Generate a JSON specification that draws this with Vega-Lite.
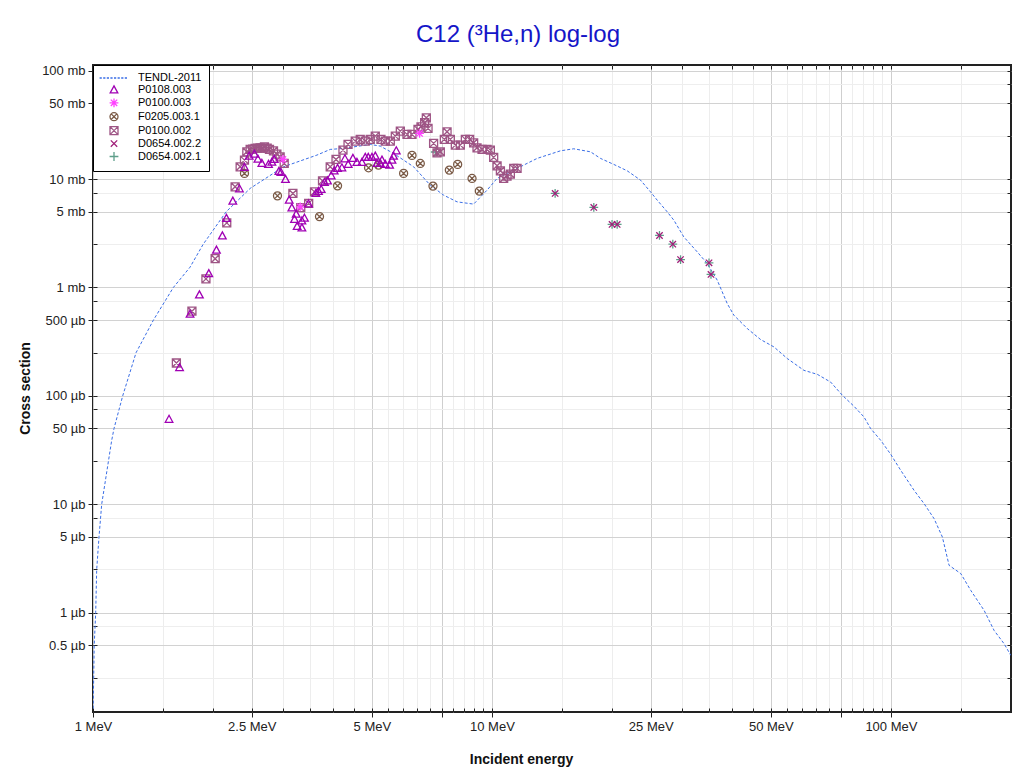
{
  "$schema": "https://vega.github.io/schema/vega-lite/v6.json",
  "width": 918,
  "height": 647,
  "autosize": {"type": "none"},
  "padding": {"left": 93, "top": 65, "right": 9, "bottom": 62},
  "background": "white",
  "config": {"view": {"stroke": "#222222", "strokeWidth": 2}, "font": "Liberation Sans"},
  "title": {"text": "C12 (³He,n) log-log", "fontSize": 24, "font": "Liberation Sans", "fontWeight": "normal", "color": "#1515c8", "anchor": "middle", "dx": -34, "dy": 23, "offset": 22, "baseline": "alphabetic"},
  "datasets": {
    "tendl": [
      {"E": 1.001, "s": 0.00013}, {"E": 1.007, "s": 0.0005}, {"E": 1.0157, "s": 0.001}, {"E": 1.0216, "s": 0.0025},
      {"E": 1.0353, "s": 0.005}, {"E": 1.0515, "s": 0.01}, {"E": 1.114, "s": 0.0389}, {"E": 1.129, "s": 0.05},
      {"E": 1.187, "s": 0.1}, {"E": 1.282, "s": 0.25}, {"E": 1.417, "s": 0.5}, {"E": 1.59, "s": 1.0},
      {"E": 1.751, "s": 1.54}, {"E": 1.888, "s": 2.5}, {"E": 2.157, "s": 5.0},
      {"E": 2.477, "s": 8.21}, {"E": 3.002, "s": 12.99}, {"E": 3.641, "s": 16.66}, {"E": 3.932, "s": 18.8},
      {"E": 4.246, "s": 19.21}, {"E": 4.955, "s": 20.91}, {"E": 5.248, "s": 20.17}, {"E": 5.667, "s": 17.27},
      {"E": 6.364, "s": 12.99}, {"E": 7.005, "s": 8.8}, {"E": 7.564, "s": 7.12}, {"E": 8.176, "s": 6.17},
      {"E": 8.997, "s": 5.88}, {"E": 9.721, "s": 7.91}, {"E": 10.3, "s": 10.15}, {"E": 11.56, "s": 12.56},
      {"E": 12.98, "s": 15.53}, {"E": 14.85, "s": 18.25}, {"E": 16.03, "s": 19.05}, {"E": 17.66, "s": 17.87},
      {"E": 18.71, "s": 15.53}, {"E": 20.2, "s": 13.67}, {"E": 21.83, "s": 11.93}, {"E": 23.57, "s": 9.79},
      {"E": 24.97, "s": 7.63}, {"E": 25.95, "s": 6.4}, {"E": 27.5, "s": 4.99}, {"E": 28.57, "s": 4.18},
      {"E": 30.26, "s": 2.93}, {"E": 32.7, "s": 2.13}, {"E": 34.64, "s": 1.666}, {"E": 36.7, "s": 1.168},
      {"E": 38.88, "s": 0.711}, {"E": 40.4, "s": 0.555}, {"E": 43.65, "s": 0.418}, {"E": 47.14, "s": 0.331},
      {"E": 50.9, "s": 0.283}, {"E": 55.0, "s": 0.221}, {"E": 60.53, "s": 0.172}, {"E": 65.39, "s": 0.158},
      {"E": 70.63, "s": 0.134}, {"E": 75.56, "s": 0.1013}, {"E": 80.8, "s": 0.0802}, {"E": 85.6, "s": 0.0639},
      {"E": 88.97, "s": 0.0499}, {"E": 94.28, "s": 0.0389}, {"E": 99.88, "s": 0.0289}, {"E": 105.8, "s": 0.0206},
      {"E": 114.3, "s": 0.01344}, {"E": 121.1, "s": 0.01013}, {"E": 128.3, "s": 0.00736}, {"E": 134.6, "s": 0.00498},
      {"E": 139.9, "s": 0.00273}, {"E": 149.7, "s": 0.00229}, {"E": 158.6, "s": 0.0016}, {"E": 171.2, "s": 0.00105},
      {"E": 181.4, "s": 0.000685}, {"E": 192.2, "s": 0.000516}, {"E": 199.8, "s": 0.000403}
    ],
    "exp": [
      {"E": 14.4, "s": 7.38, "series": "D0654.002.1"}, {"E": 18.0, "s": 5.48, "series": "D0654.002.1"},
      {"E": 20.0, "s": 3.82, "series": "D0654.002.1"}, {"E": 20.6, "s": 3.82, "series": "D0654.002.1"},
      {"E": 26.3, "s": 3.02, "series": "D0654.002.1"}, {"E": 28.4, "s": 2.51, "series": "D0654.002.1"},
      {"E": 29.7, "s": 1.81, "series": "D0654.002.1"}, {"E": 35.0, "s": 1.69, "series": "D0654.002.1"},
      {"E": 35.4, "s": 1.32, "series": "D0654.002.1"}, {"E": 7.21, "s": 17.8, "series": "D0654.002.1"},
      {"E": 14.4, "s": 7.38, "series": "D0654.002.2"}, {"E": 18.0, "s": 5.48, "series": "D0654.002.2"},
      {"E": 20.0, "s": 3.82, "series": "D0654.002.2"}, {"E": 20.6, "s": 3.82, "series": "D0654.002.2"},
      {"E": 26.3, "s": 3.02, "series": "D0654.002.2"}, {"E": 28.4, "s": 2.51, "series": "D0654.002.2"},
      {"E": 29.7, "s": 1.81, "series": "D0654.002.2"}, {"E": 35.0, "s": 1.69, "series": "D0654.002.2"},
      {"E": 35.4, "s": 1.32, "series": "D0654.002.2"},
      {"E": 1.618, "s": 0.201, "series": "P0100.002"}, {"E": 1.77, "s": 0.604, "series": "P0100.002"},
      {"E": 1.919, "s": 1.2, "series": "P0100.002"}, {"E": 2.024, "s": 1.845, "series": "P0100.002"},
      {"E": 2.164, "s": 3.95, "series": "P0100.002"}, {"E": 2.271, "s": 8.49, "series": "P0100.002"},
      {"E": 2.338, "s": 12.99, "series": "P0100.002"}, {"E": 2.397, "s": 14.98, "series": "P0100.002"},
      {"E": 2.43, "s": 17.87, "series": "P0100.002"}, {"E": 2.477, "s": 18.8, "series": "P0100.002"},
      {"E": 2.513, "s": 18.92, "series": "P0100.002"}, {"E": 2.549, "s": 19.21, "series": "P0100.002"},
      {"E": 2.586, "s": 19.35, "series": "P0100.002"}, {"E": 2.624, "s": 19.45, "series": "P0100.002"},
      {"E": 2.655, "s": 19.35, "series": "P0100.002"}, {"E": 2.69, "s": 19.87, "series": "P0100.002"},
      {"E": 2.733, "s": 19.35, "series": "P0100.002"}, {"E": 2.769, "s": 18.8, "series": "P0100.002"},
      {"E": 2.834, "s": 18.25, "series": "P0100.002"}, {"E": 2.89, "s": 17.02, "series": "P0100.002"},
      {"E": 2.945, "s": 16.07, "series": "P0100.002"}, {"E": 3.015, "s": 13.96, "series": "P0100.002"},
      {"E": 3.17, "s": 7.38, "series": "P0100.002"}, {"E": 3.317, "s": 5.45, "series": "P0100.002"},
      {"E": 3.472, "s": 5.97, "series": "P0100.002"}, {"E": 3.591, "s": 7.63, "series": "P0100.002"},
      {"E": 3.761, "s": 9.64, "series": "P0100.002"}, {"E": 3.932, "s": 12.99, "series": "P0100.002"},
      {"E": 4.066, "s": 15.2, "series": "P0100.002"}, {"E": 4.232, "s": 18.53, "series": "P0100.002"},
      {"E": 4.358, "s": 20.91, "series": "P0100.002"}, {"E": 4.543, "s": 22.43, "series": "P0100.002"},
      {"E": 4.676, "s": 23.26, "series": "P0100.002"}, {"E": 4.813, "s": 22.43, "series": "P0100.002"},
      {"E": 4.954, "s": 23.26, "series": "P0100.002"}, {"E": 5.1, "s": 24.95, "series": "P0100.002"},
      {"E": 5.27, "s": 23.26, "series": "P0100.002"}, {"E": 5.403, "s": 22.43, "series": "P0100.002"},
      {"E": 5.562, "s": 22.43, "series": "P0100.002"}, {"E": 5.725, "s": 24.95, "series": "P0100.002"},
      {"E": 5.893, "s": 27.75, "series": "P0100.002"}, {"E": 6.124, "s": 25.86, "series": "P0100.002"},
      {"E": 6.304, "s": 25.86, "series": "P0100.002"}, {"E": 6.526, "s": 28.77, "series": "P0100.002"},
      {"E": 6.64, "s": 30.41, "series": "P0100.002"}, {"E": 6.781, "s": 33.11, "series": "P0100.002"},
      {"E": 6.847, "s": 36.81, "series": "P0100.002"}, {"E": 6.915, "s": 29.39, "series": "P0100.002"},
      {"E": 7.141, "s": 21.36, "series": "P0100.002"}, {"E": 7.284, "s": 17.49, "series": "P0100.002"},
      {"E": 7.423, "s": 17.87, "series": "P0100.002"}, {"E": 7.597, "s": 23.26, "series": "P0100.002"},
      {"E": 7.717, "s": 27.34, "series": "P0100.002"}, {"E": 7.865, "s": 23.26, "series": "P0100.002"},
      {"E": 8.095, "s": 20.6, "series": "P0100.002"}, {"E": 8.331, "s": 20.6, "series": "P0100.002"},
      {"E": 8.577, "s": 23.26, "series": "P0100.002"}, {"E": 8.792, "s": 23.26, "series": "P0100.002"},
      {"E": 8.997, "s": 21.64, "series": "P0100.002"}, {"E": 9.175, "s": 19.45, "series": "P0100.002"},
      {"E": 9.445, "s": 18.8, "series": "P0100.002"}, {"E": 9.721, "s": 18.8, "series": "P0100.002"},
      {"E": 9.908, "s": 18.53, "series": "P0100.002"}, {"E": 10.1, "s": 15.87, "series": "P0100.002"},
      {"E": 10.3, "s": 13.27, "series": "P0100.002"}, {"E": 10.5, "s": 11.93, "series": "P0100.002"},
      {"E": 10.7, "s": 10.15, "series": "P0100.002"}, {"E": 10.91, "s": 10.66, "series": "P0100.002"},
      {"E": 11.12, "s": 11.12, "series": "P0100.002"}, {"E": 11.34, "s": 12.56, "series": "P0100.002"},
      {"E": 11.56, "s": 12.56, "series": "P0100.002"},
      {"E": 2.397, "s": 11.29, "series": "F0205.003.1"}, {"E": 2.9, "s": 7.01, "series": "F0205.003.1"},
      {"E": 3.696, "s": 4.51, "series": "F0205.003.1"}, {"E": 4.102, "s": 8.67, "series": "F0205.003.1"},
      {"E": 4.906, "s": 12.72, "series": "F0205.003.1"}, {"E": 5.196, "s": 13.47, "series": "F0205.003.1"},
      {"E": 6.006, "s": 11.29, "series": "F0205.003.1"}, {"E": 6.304, "s": 16.55, "series": "F0205.003.1"},
      {"E": 6.613, "s": 13.96, "series": "F0205.003.1"}, {"E": 7.115, "s": 8.62, "series": "F0205.003.1"},
      {"E": 7.82, "s": 12.11, "series": "F0205.003.1"}, {"E": 8.204, "s": 13.67, "series": "F0205.003.1"},
      {"E": 8.914, "s": 10.15, "series": "F0205.003.1"}, {"E": 9.297, "s": 7.75, "series": "F0205.003.1"},
      {"E": 2.992, "s": 15.2, "series": "P0100.003"}, {"E": 3.306, "s": 5.55, "series": "P0100.003"},
      {"E": 6.586, "s": 26.42, "series": "P0100.003"},
      {"E": 1.551, "s": 0.0608, "series": "P0108.003"}, {"E": 1.648, "s": 0.1825, "series": "P0108.003"},
      {"E": 1.751, "s": 0.567, "series": "P0108.003"}, {"E": 1.848, "s": 0.855, "series": "P0108.003"},
      {"E": 1.951, "s": 1.341, "series": "P0108.003"}, {"E": 2.039, "s": 2.21, "series": "P0108.003"},
      {"E": 2.11, "s": 2.996, "series": "P0108.003"}, {"E": 2.16, "s": 4.34, "series": "P0108.003"},
      {"E": 2.241, "s": 6.26, "series": "P0108.003"}, {"E": 2.328, "s": 8.14, "series": "P0108.003"},
      {"E": 2.397, "s": 12.82, "series": "P0108.003"}, {"E": 2.463, "s": 16.31, "series": "P0108.003"},
      {"E": 2.539, "s": 17.02, "series": "P0108.003"}, {"E": 2.59, "s": 15.3, "series": "P0108.003"},
      {"E": 2.65, "s": 13.96, "series": "P0108.003"}, {"E": 2.754, "s": 13.67, "series": "P0108.003"},
      {"E": 2.808, "s": 14.35, "series": "P0108.003"}, {"E": 2.846, "s": 15.2, "series": "P0108.003"},
      {"E": 2.924, "s": 11.78, "series": "P0108.003"}, {"E": 2.958, "s": 11.53, "series": "P0108.003"},
      {"E": 3.037, "s": 9.94, "series": "P0108.003"}, {"E": 3.103, "s": 6.4, "series": "P0108.003"},
      {"E": 3.151, "s": 5.43, "series": "P0108.003"}, {"E": 3.231, "s": 4.75, "series": "P0108.003"},
      {"E": 3.199, "s": 4.25, "series": "P0108.003"}, {"E": 3.249, "s": 3.66, "series": "P0108.003"},
      {"E": 3.339, "s": 4.12, "series": "P0108.003"}, {"E": 3.339, "s": 3.55, "series": "P0108.003"},
      {"E": 3.389, "s": 4.36, "series": "P0108.003"}, {"E": 3.468, "s": 5.91, "series": "P0108.003"},
      {"E": 3.62, "s": 7.38, "series": "P0108.003"}, {"E": 3.675, "s": 7.7, "series": "P0108.003"},
      {"E": 3.733, "s": 8.03, "series": "P0108.003"}, {"E": 3.805, "s": 9.32, "series": "P0108.003"},
      {"E": 3.871, "s": 9.64, "series": "P0108.003"}, {"E": 3.955, "s": 10.73, "series": "P0108.003"},
      {"E": 4.024, "s": 11.93, "series": "P0108.003"}, {"E": 4.102, "s": 12.56, "series": "P0108.003"},
      {"E": 4.206, "s": 12.72, "series": "P0108.003"}, {"E": 4.28, "s": 15.4, "series": "P0108.003"},
      {"E": 4.362, "s": 13.67, "series": "P0108.003"}, {"E": 4.482, "s": 15.53, "series": "P0108.003"},
      {"E": 4.587, "s": 14.27, "series": "P0108.003"}, {"E": 4.722, "s": 14.27, "series": "P0108.003"},
      {"E": 4.813, "s": 15.87, "series": "P0108.003"}, {"E": 4.897, "s": 15.87, "series": "P0108.003"},
      {"E": 5.003, "s": 15.87, "series": "P0108.003"}, {"E": 5.1, "s": 16.31, "series": "P0108.003"},
      {"E": 5.149, "s": 13.96, "series": "P0108.003"}, {"E": 5.248, "s": 13.96, "series": "P0108.003"},
      {"E": 5.301, "s": 14.98, "series": "P0108.003"}, {"E": 5.403, "s": 13.67, "series": "P0108.003"},
      {"E": 5.539, "s": 13.47, "series": "P0108.003"}, {"E": 5.616, "s": 14.98, "series": "P0108.003"},
      {"E": 5.667, "s": 16.31, "series": "P0108.003"}, {"E": 5.757, "s": 18.25, "series": "P0108.003"}
    ]
  },
  "layer": [
    {
      "data": {"name": "tendl"},
      "mark": {"type": "point", "opacity": 0},
      "encoding": {
        "x": {"field": "E", "type": "quantitative", "scale": {"type": "log", "domain": [1, 200], "nice": false},
          "axis": {"orient": "bottom", "values": [1, 1.5, 2, 2.5, 3, 3.5, 4, 4.5, 5, 5.5, 6, 6.5, 7, 7.5, 8, 8.5, 9, 9.5, 10, 15, 20, 25, 30, 35, 40, 45, 50, 55, 60, 65, 70, 75, 80, 85, 90, 95, 100, 150],
            "labels": false, "title": null, "domain": false, "tickSize": -4, "tickColor": "#222222", "tickWidth": 1,
            "grid": true, "gridWidth": 1,
            "gridColor": {"condition": {"test": "indexof([1,2.5,5,7.5,10,25,50,75,100], datum.value) >= 0", "value": "#cfcfcf"}, "value": "#ededed"}}},
        "y": {"field": "s", "type": "quantitative", "scale": {"type": "log", "domain": [0.000121, 113], "nice": false},
          "axis": {"orient": "left", "values": [100, 75, 50, 25, 10, 7.5, 5, 2.5, 1, 0.75, 0.5, 0.25, 0.1, 0.075, 0.05, 0.025, 0.01, 0.0075, 0.005, 0.0025, 0.001, 0.00075, 0.0005, 0.00025],
            "labels": false, "title": null, "domain": false, "tickSize": -4, "tickColor": "#222222", "tickWidth": 1,
            "grid": true, "gridWidth": 1,
            "gridColor": {"condition": {"test": "indexof([100,50,10,5,1,0.5,0.1,0.05,0.01,0.005,0.001,0.0005], datum.value) >= 0", "value": "#d2d2d2"}, "value": "#eeeeee"}}}
      }
    },
    {
      "data": {"name": "tendl"},
      "mark": {"type": "line", "color": "#3a6ee6", "strokeWidth": 1, "strokeDash": [3, 2], "clip": true},
      "encoding": {
        "x": {"field": "E", "type": "quantitative", "scale": {"type": "log", "domain": [1, 200], "nice": false},
          "axis": {"orient": "bottom", "values": [1, 2.5, 5, 7.5, 10, 25, 50, 75, 100], "tickSize": 5, "tickColor": "#222222", "grid": false, "domain": false,
            "labelExpr": "indexof([1,2.5,5,10,25,50,100], datum.value) >= 0 ? datum.value + ' MeV' : ''",
            "labelFontSize": 13, "labelColor": "#222222", "labelPadding": 3, "labelFlush": false, "labelOverlap": false, "labelBound": false,
            "title": "Incident energy", "titleFontSize": 14, "titleFontWeight": "bold", "titleColor": "#111111",
            "titleX": 428, "titleY": 47, "titleBaseline": "middle", "titleAlign": "center", "titleAnchor": null}},
        "y": {"field": "s", "type": "quantitative", "scale": {"type": "log", "domain": [0.000121, 113], "nice": false},
          "axis": {"orient": "left", "values": [100, 50, 10, 5, 1, 0.5, 0.1, 0.05, 0.01, 0.005, 0.001, 0.0005], "tickSize": 5, "tickColor": "#222222", "grid": false, "domain": false,
            "labelExpr": "datum.value >= 1 ? datum.value + ' mb' : format(datum.value * 1000, '~g') + ' µb'",
            "labelFontSize": 13, "labelColor": "#222222", "labelPadding": 3, "labelFlush": false, "labelOverlap": false, "labelBound": false,
            "title": "Cross section", "titleFontSize": 14, "titleFontWeight": "bold", "titleColor": "#111111",
            "titleX": -68, "titleY": 323, "titleBaseline": "middle", "titleAlign": "center", "titleAngle": -90}}
      }
    },
    {
      "data": {"name": "exp"},
      "mark": {"type": "point", "filled": false, "opacity": 1, "size": 64, "strokeWidth": 1.3},
      "encoding": {
        "x": {"field": "E", "type": "quantitative", "scale": {"type": "log", "domain": [1, 200], "nice": false},
          "axis": {"orient": "top", "values": [1, 1.5, 2, 2.5, 3, 3.5, 4, 4.5, 5, 5.5, 6, 6.5, 7, 7.5, 8, 8.5, 9, 9.5, 10, 15, 20, 25, 30, 35, 40, 45, 50, 55, 60, 65, 70, 75, 80, 85, 90, 95, 100, 150],
            "labels": false, "title": null, "domain": false, "grid": false, "tickSize": -4, "tickColor": "#222222"}},
        "y": {"field": "s", "type": "quantitative", "scale": {"type": "log", "domain": [0.000121, 113], "nice": false},
          "axis": {"orient": "right", "values": [100, 75, 50, 25, 10, 7.5, 5, 2.5, 1, 0.75, 0.5, 0.25, 0.1, 0.075, 0.05, 0.025, 0.01, 0.0075, 0.005, 0.0025, 0.001, 0.00075, 0.0005, 0.00025],
            "labels": false, "title": null, "domain": false, "grid": false, "tickSize": -4, "tickColor": "#222222"}},
        "color": {"field": "series", "type": "nominal",
          "scale": {"domain": ["TENDL-2011", "P0108.003", "P0100.003", "F0205.003.1", "P0100.002", "D0654.002.2", "D0654.002.1"],
            "range": ["#3a6ee6", "#a000b4", "#ff40ff", "#7a5a46", "#9e5585", "#a01e78", "#5e9e8a"]},
          "legend": {"orient": "top-left", "offset": 0, "title": null, "padding": 7.5, "strokeColor": "#000000", "fillColor": "#ffffff",
            "symbolSize": 64, "symbolStrokeWidth": 1.3, "symbolOffset": 8, "labelOffset": 18.5, "labelFontSize": 11,
            "labelFont": "Liberation Sans", "labelColor": "#000000", "rowPadding": -1.1}},
        "shape": {"field": "series", "type": "nominal",
          "scale": {"domain": ["TENDL-2011", "P0108.003", "P0100.003", "F0205.003.1", "P0100.002", "D0654.002.2", "D0654.002.1"],
            "range": [
              "M-3.6,0H-3.05M-2.7,0H-2.15M-1.8,0H-1.25M-0.9,0H-0.35M0,0H0.55M0.9,0H1.45M1.8,0H2.35M2.7,0H3.25",
              "M0,-1L0.95,0.75L-0.95,0.75Z",
              "M0,-1.1V1.1M-1.1,0H1.1M-0.8,-0.8L0.8,0.8M-0.8,0.8L0.8,-0.8",
              "M-1,0A1,1,0,1,1,1,0A1,1,0,1,1,-1,0ZM-0.7,-0.7L0.7,0.7M-0.7,0.7L0.7,-0.7",
              "M-1,-1H1V1H-1ZM-1,-1L1,1M-1,1L1,-1",
              "M-0.8,-0.8L0.8,0.8M-0.8,0.8L0.8,-0.8",
              "M0,-1.1V1.1M-1.1,0H1.1"
            ]},
          "legend": {"orient": "top-left", "offset": 0, "title": null, "padding": 7.5, "strokeColor": "#000000", "fillColor": "#ffffff",
            "symbolSize": 64, "symbolStrokeWidth": 1.3, "symbolOffset": 8, "labelOffset": 18.5, "labelFontSize": 11,
            "labelFont": "Liberation Sans", "labelColor": "#000000", "rowPadding": -1.1}}
      }
    }
  ],
  "resolve": {"axis": {"x": "independent", "y": "independent"}}
}
